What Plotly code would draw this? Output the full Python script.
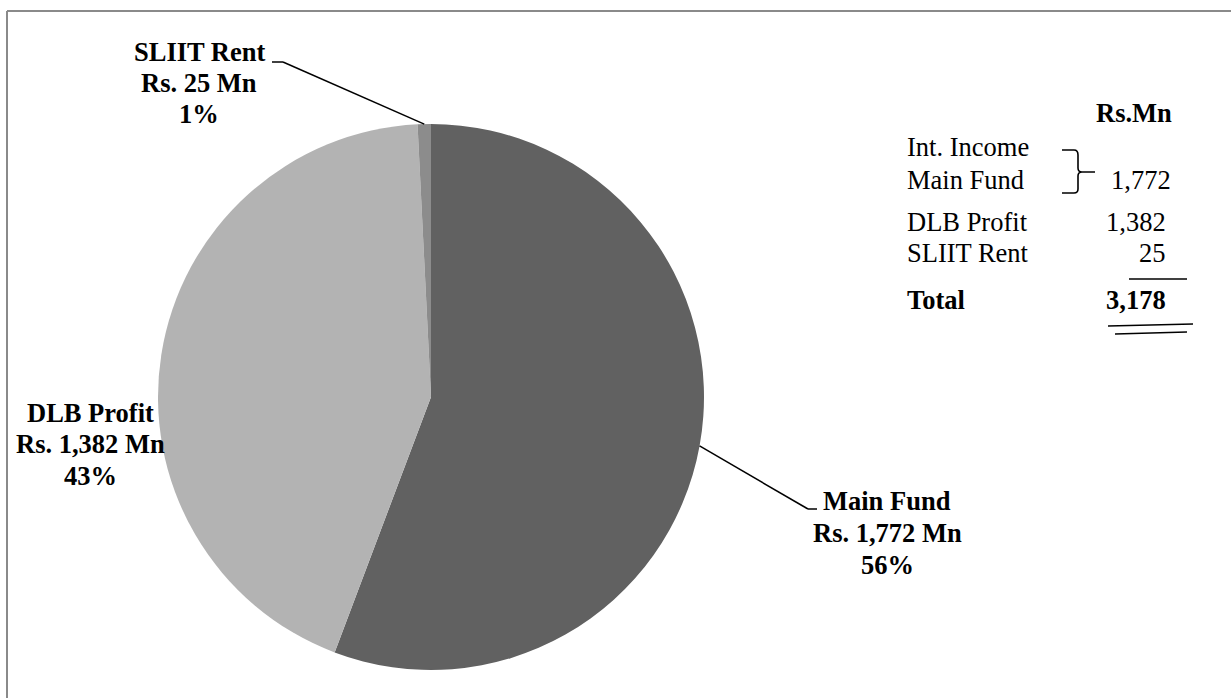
import math
import plotly.graph_objects as go

# ---- data ----
categories = ["Main Fund", "DLB Profit", "SLIIT Rent"]
values = [1772, 1382, 25]
percent_labels = ["56%", "43%", "1%"]
value_labels = ["Rs. 1,772 Mn", "Rs. 1,382 Mn", "Rs. 25 Mn"]
slice_colors = ["#616161", "#b3b3b3", "#8c8c8c"]

table_rows = ["Int. Income", "Main Fund", "DLB Profit", "SLIIT Rent"]
table_values = ["", "1,772", "1,382", "25"]
total_label = "Total"
total_value = "3,178"
table_header = "Rs.Mn"

W, H = 1231, 698
FONT = "Liberation Serif"
FS = 26.5

def px(x):
    return x / W

def py(y):
    return 1 - y / H

# pie geometry (pixels)
CX, CY, R = 431, 397, 273

fig = go.Figure()
fig.add_trace(go.Pie(
    labels=categories,
    values=values,
    marker=dict(colors=slice_colors, line=dict(width=0)),
    sort=False,
    direction="clockwise",
    rotation=0,
    textinfo="none",
    hoverinfo="label+value+percent",
    showlegend=False,
    domain=dict(x=[px(CX - R), px(CX + R)], y=[py(CY + R), py(CY - R)]),
))

annotations = []
shapes = []

def add_text(x, y, text, bold=False, xanchor="center", size=FS):
    annotations.append(dict(
        x=px(x), y=py(y), xref="paper", yref="paper",
        text=f"<b>{text}</b>" if bold else text,
        showarrow=False, xanchor=xanchor, yanchor="middle",
        font=dict(family=FONT, size=size, color="black"),
    ))

def add_line(x0, y0, x1, y1, width=1.5, color="black"):
    shapes.append(dict(type="line", xref="paper", yref="paper",
                       x0=px(x0), y0=py(y0), x1=px(x1), y1=py(y1),
                       line=dict(color=color, width=width)))

# slice mid-angle edge points (from data)
total = sum(values)
cum = 0
edge_pts = []
for v in values:
    mid = (cum + v / 2) / total * 2 * math.pi
    edge_pts.append((CX + R * math.sin(mid), CY - R * math.cos(mid)))
    cum += v

# label blocks: (center x, center y of the three lines)
label_pos = [(887, 533), (90, 444), (199, 83)]
LS = 31.5
for i, (lx, ly) in enumerate(label_pos):
    add_text(lx, ly - LS, categories[i], bold=True)
    add_text(lx, ly, value_labels[i], bold=True)
    add_text(lx, ly + LS, percent_labels[i], bold=True)

# leader lines
ex, ey = edge_pts[0]
add_line(ex, ey, 808, 509)
add_line(808, 509, 817, 509)
ex, ey = edge_pts[2]
add_line(ex, ey, 283, 62)
add_line(283, 62, 272, 62)

# side table
add_text(1174, 113, table_header, bold=True, xanchor="right")
row_y = [147, 180, 222, 253]
val_right = [1173, 1173, 1168, 1168]
for name, val, y, xr in zip(table_rows, table_values, row_y, val_right):
    add_text(905, y, name, xanchor="left")
    if val:
        add_text(xr, y, val, xanchor="right")
add_text(905, 300, total_label, bold=True, xanchor="left")
add_text(1168, 300, total_value, bold=True, xanchor="right")

# table rules
add_line(1129, 279, 1187, 279, width=1.5)
add_line(1108, 326, 1193, 324, width=1.5)
add_line(1115, 334, 1187, 332, width=1.5)

# brace
brace = (f"M {px(1062)},{py(150)} L {px(1074)},{py(150)} "
         f"Q {px(1078)},{py(150)} {px(1078)},{py(155)} "
         f"L {px(1078)},{py(168)} Q {px(1078)},{py(172)} {px(1082)},{py(172)} "
         f"L {px(1095)},{py(172)} M {px(1082)},{py(172)} "
         f"Q {px(1078)},{py(172)} {px(1078)},{py(176)} "
         f"L {px(1078)},{py(189)} Q {px(1078)},{py(193)} {px(1074)},{py(193)} "
         f"L {px(1062)},{py(193)}")
shapes.append(dict(type="path", xref="paper", yref="paper", path=brace,
                   line=dict(color="black", width=1.6)))

# outer frame (top and left edges visible)
add_line(7, 11, 1231, 11, width=2, color="#8a8a8a")
add_line(7, 11, 7, 698, width=2, color="#8a8a8a")

fig.update_layout(
    width=W, height=H,
    margin=dict(l=0, r=0, t=0, b=0),
    paper_bgcolor="white",
    plot_bgcolor="white",
    font=dict(family=FONT),
    annotations=annotations,
    shapes=shapes,
)

fig.write_html(
    "out.html",
    config={"displayModeBar": False},
    post_script="document.body.style.margin='0';document.body.style.overflow='hidden';",
)
